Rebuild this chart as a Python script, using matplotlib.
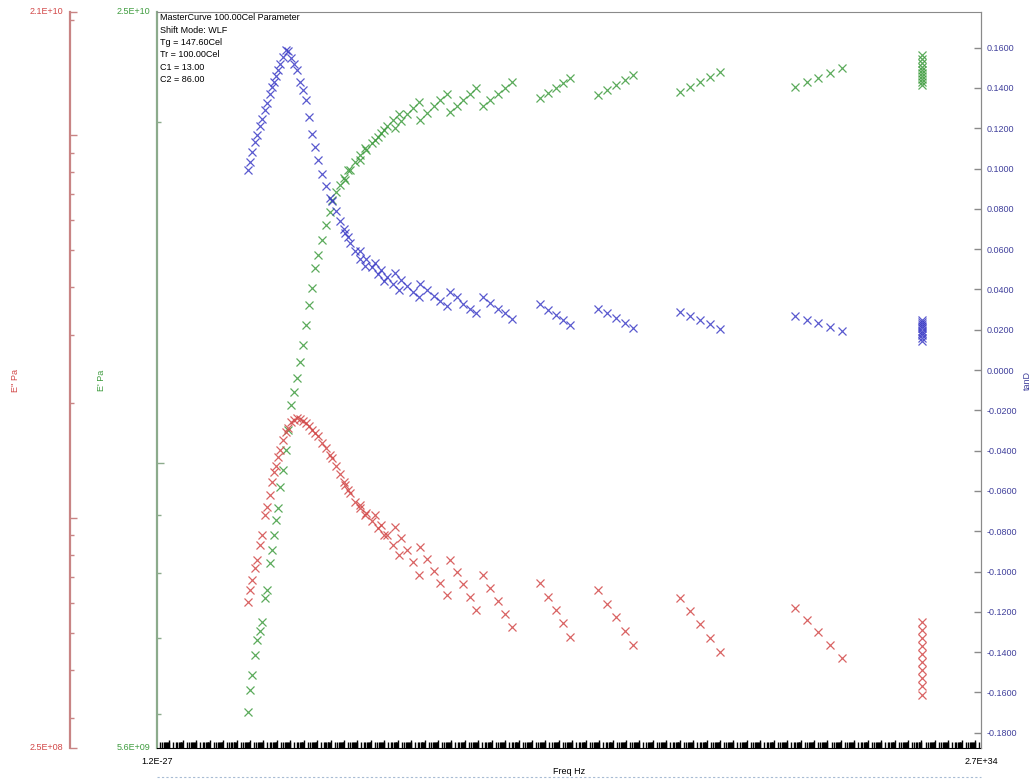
import numpy as np
import matplotlib
matplotlib.use('Agg')
import matplotlib.pyplot as plt
from matplotlib.ticker import LogLocator, NullFormatter, FixedLocator, FuncFormatter
from matplotlib.lines import Line2D

plt.rcParams['font.family'] = ['Liberation Sans', 'DejaVu Sans']

# log10 of reduced frequency (Hz) for each point of the master curve
log_freq = [
    -20.15, -20.00, -19.85, -19.62, -19.48, -19.25, -19.10, -18.88, -18.73, -18.51,
    -18.36, -18.21, -18.06, -17.91, -17.76, -17.54, -17.32, -17.17, -16.94, -16.72,
    -16.50, -16.27, -16.05, -15.83, -15.60, -15.38, -15.16, -14.93, -14.64, -14.34, -14.04,
    -13.89, -13.59, -13.30, -13.00, -12.70,
    -12.92, -12.55, -12.18, -11.81, -11.43,
    -11.81, -11.36, -10.91, -10.47, -10.02,
    -10.69, -10.24, -9.80, -9.35, -8.90,
    -9.20, -8.75, -8.31, -7.86, -7.41,
    -7.34, -6.82, -6.30, -5.85, -5.33,
    -5.11, -4.58, -4.14, -3.62, -3.17,
    -2.65, -2.13, -1.53, -1.01, -0.49,
    1.60, 2.19, 2.79, 3.31, 3.83,
    5.92, 6.59, 7.26, 7.93, 8.52,
    12.02, 12.77, 13.51, 14.25, 15.00,
    20.58, 21.48, 22.30, 23.19, 24.08,
    30.04, 30.04, 30.04, 30.04, 30.04, 30.04, 30.04, 30.04, 30.04, 30.04,
]

# storage modulus E' in GPa
storage_gpa = [
    6.02, 6.30, 6.49, 6.76, 6.97, 7.11, 7.23, 7.59, 7.72, 8.15,
    8.37, 8.63, 8.90, 9.12, 9.51, 9.85, 10.26, 10.69, 11.24, 11.54,
    11.88, 12.27, 12.70, 13.24, 13.77, 14.26, 14.86, 15.25, 15.74, 16.22, 16.65,
    17.06, 17.34, 17.59, 17.84, 18.13,
    17.78, 18.13, 18.43, 18.70, 18.97,
    18.50, 18.88, 19.15, 19.39, 19.67,
    19.27, 19.54, 19.82, 20.07, 20.32,
    19.75, 20.03, 20.32, 20.57, 20.82,
    20.07, 20.36, 20.65, 20.91, 21.16,
    20.40, 20.65, 20.91, 21.16, 21.42,
    20.65, 20.91, 21.16, 21.42, 21.69,
    20.99, 21.20, 21.42, 21.64, 21.86,
    21.12, 21.34, 21.55, 21.77, 21.99,
    21.25, 21.47, 21.69, 21.91, 22.13,
    21.47, 21.69, 21.86, 22.08, 22.31,
    21.55, 21.69, 21.82, 21.96, 22.08, 22.22, 22.35, 22.53, 22.72, 22.91,
]

# loss modulus E'' in GPa
loss_gpa = [
    0.602, 0.647, 0.687, 0.738, 0.775, 0.848, 0.901, 1.016, 1.066, 1.146,
    1.240, 1.316, 1.365, 1.442, 1.503, 1.596, 1.675, 1.715, 1.778, 1.800,
    1.823, 1.811, 1.789, 1.768, 1.736, 1.695, 1.664, 1.635, 1.567, 1.521, 1.459,
    1.432, 1.365, 1.301, 1.240, 1.181,
    1.218, 1.160, 1.099, 1.060, 1.016,
    1.079, 1.028, 0.980, 0.940, 0.901,
    1.016, 0.957, 0.901, 0.848, 0.798,
    0.945, 0.885, 0.823, 0.766, 0.708,
    0.838, 0.780, 0.726, 0.675, 0.628,
    0.775, 0.721, 0.671, 0.620, 0.574,
    0.708, 0.655, 0.605, 0.560, 0.518,
    0.675, 0.620, 0.574, 0.530, 0.488,
    0.647, 0.595, 0.550, 0.505, 0.465,
    0.617, 0.570, 0.527, 0.485, 0.446,
    0.580, 0.540, 0.502, 0.465, 0.430,
    0.534, 0.508, 0.485, 0.462, 0.440, 0.420, 0.400, 0.381, 0.363, 0.344,
]

tan_delta = [
    0.0995, 0.1034, 0.1084, 0.1133, 0.1167, 0.1212, 0.1246, 0.1291, 0.1325, 0.1369,
    0.1404, 0.1429, 0.1458, 0.1488, 0.1517, 0.1552, 0.1586, 0.1581, 0.1547, 0.1517,
    0.1488, 0.1429, 0.1389, 0.1340, 0.1256, 0.1172, 0.1108, 0.1044, 0.0975, 0.0911, 0.0852,
    0.0837, 0.0788, 0.0739, 0.0700, 0.0660,
    0.0680, 0.0631, 0.0591, 0.0552, 0.0517,
    0.0591, 0.0552, 0.0513, 0.0478, 0.0443,
    0.0532, 0.0498, 0.0463, 0.0429, 0.0399,
    0.0483, 0.0448, 0.0419, 0.0389, 0.0360,
    0.0429, 0.0399, 0.0369, 0.0345, 0.0320,
    0.0389, 0.0360, 0.0330, 0.0305, 0.0281,
    0.0360, 0.0335, 0.0305, 0.0281, 0.0251,
    0.0330, 0.0300, 0.0271, 0.0246, 0.0222,
    0.0305, 0.0281, 0.0256, 0.0232, 0.0207,
    0.0286, 0.0266, 0.0246, 0.0227, 0.0202,
    0.0266, 0.0246, 0.0232, 0.0212, 0.0192,
    0.0246, 0.0236, 0.0227, 0.0217, 0.0207, 0.0192, 0.0182, 0.0172, 0.0158, 0.0143,
]

info_lines = ['MasterCurve 100.00Cel Parameter', 'Shift Mode: WLF', 'Tg = 147.60Cel',
              'Tr = 100.00Cel', 'C1 = 13.00', 'C2 = 86.00']

freq = 10.0 ** np.array(log_freq)
e_storage = np.array(storage_gpa) * 1e9
e_loss = np.array(loss_gpa) * 1e9
tand = np.array(tan_delta)

RED, RED_AX = '#d24848', '#c88484'
GREEN, GREEN_AX = '#3f9c3f', '#8cab8c'
BLUE, BLUE_TXT = '#3d3dc6', '#40409c'
GRAY = '#8a8a8a'
FS = 6.5

W, H = 1034, 779
x0, x1, y0, y1 = 157, 981, 12, 748          # plot frame in pixels
fig = plt.figure(figsize=(W / 100, H / 100), dpi=100)
ax = fig.add_axes([x0 / W, 1 - y1 / H, (x1 - x0) / W, (y1 - y0) / H])

# E' on the main axes
ax.set_xscale('log')
ax.set_yscale('log')
ax.set_xlim(1.2e-27, 2.7e34)
ax.set_ylim(5.6e9, 2.5e10)
ax.xaxis.set_major_locator(LogLocator(base=10, numticks=200))
ax.xaxis.set_minor_locator(LogLocator(base=10, subs=np.arange(2, 10), numticks=200))
ax.yaxis.set_major_locator(FixedLocator([1e10]))
ax.yaxis.set_minor_locator(FixedLocator([6e9, 7e9, 8e9, 9e9, 2e10]))
for axis in (ax.xaxis, ax.yaxis):
    axis.set_major_formatter(NullFormatter())
    axis.set_minor_formatter(NullFormatter())
ax.tick_params(axis='x', which='both', direction='in', color='black', width=1.0)
ax.tick_params(axis='x', which='major', length=6)
ax.tick_params(axis='x', which='minor', length=4.5)
ax.tick_params(axis='y', which='both', direction='in', color=GREEN_AX, width=1.0)
ax.tick_params(axis='y', which='major', length=5)
ax.tick_params(axis='y', which='minor', length=3)
ax.spines['left'].set_color(GREEN_AX)
ax.spines['left'].set_linewidth(1.6)
ax.spines['top'].set_color(GRAY)
ax.spines['right'].set_color(GRAY)
ax.spines['bottom'].set_color('black')
ax.plot(freq, e_storage, 'x', color=GREEN, ms=5.5, mew=0.9, alpha=0.85)

# E'' on a detached left axis
ax_loss = ax.twinx()
ax_loss.set_yscale('log')
ax_loss.set_ylim(2.5e8, 2.1e10)
ax_loss.spines['left'].set_position(('axes', (70 - x0) / (x1 - x0)))
ax_loss.spines['left'].set_visible(True)
ax_loss.spines['left'].set_color(RED_AX)
ax_loss.spines['left'].set_linewidth(1.6)
for side in ('right', 'top', 'bottom'):
    ax_loss.spines[side].set_visible(False)
ax_loss.yaxis.tick_left()
ax_loss.yaxis.set_major_locator(FixedLocator([2.5e8, 1e9, 1e10, 2.1e10]))
ax_loss.yaxis.set_minor_locator(LogLocator(base=10, subs=np.arange(2, 10), numticks=50))
ax_loss.yaxis.set_major_formatter(NullFormatter())
ax_loss.yaxis.set_minor_formatter(NullFormatter())
ax_loss.tick_params(axis='y', which='both', direction='in', color=RED_AX, width=1.0)
ax_loss.tick_params(axis='y', which='major', length=5)
ax_loss.tick_params(axis='y', which='minor', length=3)
ax_loss.plot(freq, e_loss, 'x', color=RED, ms=5.5, mew=0.9, alpha=0.85)

# tan delta on the right
ax_tan = ax.twinx()
ax_tan.set_ylim(-0.1876, 0.1777)
ax_tan.set_yticks(np.round(np.arange(-0.18, 0.161, 0.02), 2))
ax_tan.yaxis.set_major_formatter(FuncFormatter(lambda v, pos: f'{round(v, 4) + 0.0:.4f}'))
ax_tan.tick_params(axis='y', direction='in', length=5, width=1.0, color=GRAY,
                   labelcolor=BLUE_TXT, labelsize=FS, pad=4)
for side in ('left', 'top', 'bottom'):
    ax_tan.spines[side].set_visible(False)
ax_tan.spines['right'].set_color(GRAY)
ax_tan.plot(freq, tand, 'x', color=BLUE, ms=5.5, mew=0.9, alpha=0.85)

# end values of the axes
ax.text(-0.008, 1.0, '2.5E+10', transform=ax.transAxes, ha='right', va='center',
        fontsize=FS, color=GREEN)
ax.text(-0.008, 0.0, '5.6E+09', transform=ax.transAxes, ha='right', va='center',
        fontsize=FS, color=GREEN)
red_x = (70 - x0) / (x1 - x0) - 0.008
ax.text(red_x, 1.0, '2.1E+10', transform=ax.transAxes, ha='right', va='center',
        fontsize=FS, color=RED)
ax.text(red_x, 0.0, '2.5E+08', transform=ax.transAxes, ha='right', va='center',
        fontsize=FS, color=RED)
ax.text(0.0, -0.012, '1.2E-27', transform=ax.transAxes, ha='center', va='top',
        fontsize=FS, color='black')
ax.text(1.0, -0.012, '2.7E+34', transform=ax.transAxes, ha='center', va='top',
        fontsize=FS, color='black')

# axis titles
fig.text(15 / W, 1 - 380 / H, "E'' Pa", rotation=90, ha='center', va='center',
         fontsize=FS, color=RED)
fig.text(102 / W, 1 - 380 / H, "E' Pa", rotation=90, ha='center', va='center',
         fontsize=FS, color=GREEN)
fig.text(1027 / W, 1 - 380 / H, 'tanD', rotation=90, ha='center', va='center',
         fontsize=FS, color=BLUE_TXT)
fig.text((x0 + x1) / 2 / W, 1 - 771 / H, 'Freq Hz', ha='center', va='center',
         fontsize=FS, color='black')

# parameter block in the upper left corner
for i, line in enumerate(info_lines):
    ypix = 18 + i * 12.3
    ax.text(0.004, 1 - (ypix - y0) / (y1 - y0), line, transform=ax.transAxes,
            ha='left', va='center', fontsize=FS, color='black')

# dotted rule under the chart
fig.add_artist(Line2D([x0 / W, x1 / W], [1 - 777 / H] * 2, color='#a8bcd4',
                      lw=0.8, ls=(0, (2, 2))))

fig.savefig('out.png', dpi=100)
